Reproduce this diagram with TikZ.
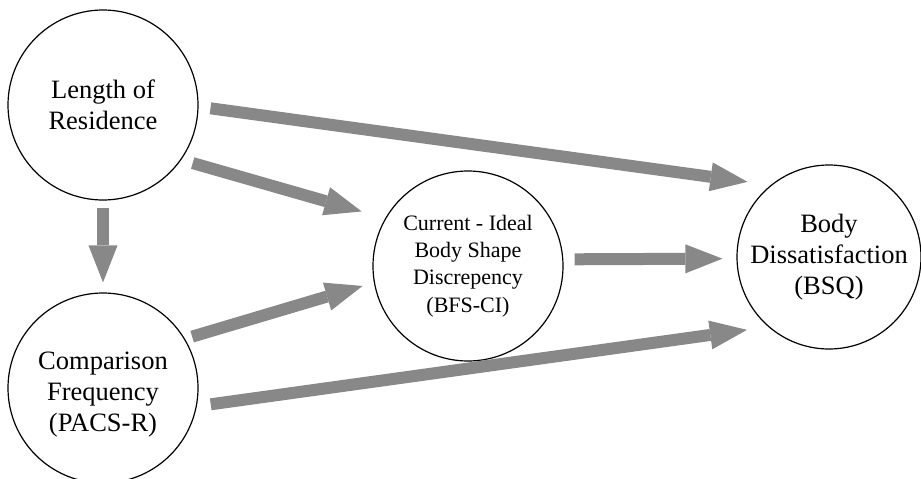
\documentclass[tikz,border=0pt]{standalone}
\usepackage{fontspec}
\setmainfont{Liberation Serif}
\usetikzlibrary{arrows.meta}
\definecolor{arrowgray}{RGB}{136,136,136}
\tikzset{
  var/.style={draw, circle, line width=1.2pt, inner sep=0pt, minimum size=190pt,
    align=center, font=\fontsize{26.5}{31}\selectfont},
  vartext/.style={inner sep=0pt, align=center, font=\fontsize{26.5}{31}\selectfont},
  effect/.style={draw=arrowgray, line width=12pt,
    -{Triangle[length=37pt,width=29pt,line width=0pt]}}
}
\begin{document}
\begin{tikzpicture}[x=1pt, y=-1pt]
\useasboundingbox (0,0) rectangle (921,479);
% variables
\node[var] (len) at (103,105) {Length of\\Residence};
\node[var] (pacs) at (103,388) {};
\node[vartext] (pacstext) at (103,395) {Comparison\\Frequency\\(PACS-R)};
\node[var, font=\fontsize{22}{27.3}\selectfont] (bfs) at (468,266) {Current - Ideal\\Body Shape\\Discrepency\\(BFS-CI)};
\node[var, minimum size=184pt] (bsq) at (829,257) {Body\\Dissatisfaction\\(BSQ)};
% paths
\draw[effect, shorten <=12pt, shorten >=23.5pt] (len.-1.4) -- (bsq.129.7);
\draw[effect, shorten <=11.8pt, shorten >=24.5pt] (len.-35.2) -- (bfs.150.2);
\draw[effect, shorten <=7pt, shorten >=10pt] (len.south) -- (pacs.north);
\draw[effect, shorten <=7.5pt, shorten >=11.8pt] (pacs.31.7) -- (bfs.-170.5);
\draw[effect, shorten <=11.3pt, shorten >=14pt] (bfs.4.2) -- (bsq.181.2);
\draw[effect, shorten <=14pt, shorten >=21.5pt] (pacs.-11.5) -- (bsq.229.5);
\end{tikzpicture}
\end{document}
